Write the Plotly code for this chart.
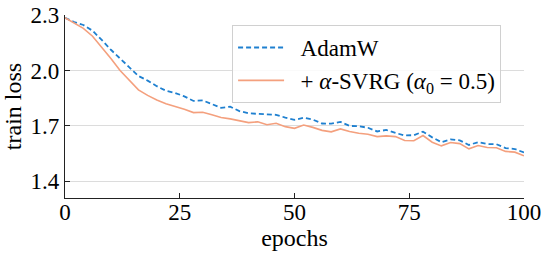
import plotly.graph_objects as go

epochs = list(range(0, 101, 2))

adamw = [2.285, 2.262, 2.246, 2.215, 2.165, 2.112, 2.065, 2.015, 1.970, 1.945,
         1.915, 1.890, 1.878, 1.860, 1.835, 1.838, 1.820, 1.798, 1.804, 1.780,
         1.768, 1.766, 1.762, 1.760, 1.745, 1.733, 1.744, 1.734, 1.713, 1.712,
         1.722, 1.700, 1.698, 1.690, 1.670, 1.678, 1.662, 1.648, 1.650, 1.669,
         1.638, 1.612, 1.627, 1.622, 1.597, 1.612, 1.602, 1.601, 1.580, 1.575,
         1.556]

svrg = [2.285, 2.255, 2.228, 2.185, 2.128, 2.065, 2.000, 1.945, 1.895, 1.865,
        1.840, 1.820, 1.806, 1.790, 1.772, 1.774, 1.760, 1.745, 1.738, 1.728,
        1.718, 1.722, 1.706, 1.714, 1.696, 1.687, 1.705, 1.692, 1.676, 1.668,
        1.684, 1.670, 1.660, 1.655, 1.642, 1.646, 1.642, 1.621, 1.620, 1.648,
        1.612, 1.592, 1.610, 1.604, 1.576, 1.594, 1.583, 1.582, 1.562, 1.558,
        1.538]

x_ticks = [0, 25, 50, 75, 100]
y_ticks = [1.4, 1.7, 2.0, 2.3]

FONT = "Liberation Serif"
PAD = "\u00a0\u00a0"

fig = go.Figure()
fig.add_trace(go.Scatter(x=epochs, y=adamw, mode="lines", name=PAD + "AdamW",
                         legendgroup="a",
                         line=dict(color="#1f80d0", width=1.8, dash="5px,3px")))
fig.add_trace(go.Scatter(x=epochs, y=svrg, mode="lines",
                         name=PAD + "+ <i>α</i>-SVRG (<i>α</i><sub>0</sub> = 0.5)",
                         legendgroup="b",
                         line=dict(color="#f4a07e", width=1.6)))

fig.update_layout(
    width=548, height=256,
    margin=dict(l=65, r=24, t=15, b=58),
    paper_bgcolor="white", plot_bgcolor="white",
    font=dict(family=FONT, size=23, color="black"),
    showlegend=True,
    legend=dict(x=0.364, y=0.945, xanchor="left", yanchor="top",
                bgcolor="rgba(255,255,255,0.85)", bordercolor="#d0d0d0",
                borderwidth=1, font=dict(family=FONT, size=23),
                traceorder="grouped", tracegroupgap=0, itemwidth=46),
    xaxis=dict(range=[0, 100], tickvals=x_ticks, ticks="inside", ticklen=5,
               tickcolor="#222", showline=True, linecolor="#222", linewidth=1.3,
               showgrid=False, zeroline=False, automargin=False,
               ticklabelstandoff=-7,
               title=dict(text="epochs", font=dict(size=24), standoff=0),
               tickfont=dict(size=23)),
    yaxis=dict(range=[1.31, 2.3], tickvals=y_ticks, tickformat=".1f",
               ticks="inside", ticklen=5, tickcolor="#222",
               showline=True, linecolor="#222", linewidth=1.3, automargin=False,
               showgrid=True, gridcolor="#dcdcdc", gridwidth=1, zeroline=False,
               title=dict(text="train loss", font=dict(size=24), standoff=4),
               tickfont=dict(size=23)),
)

fig.write_html("out.html",
               config={"displayModeBar": False},
               post_script="document.body.style.margin='0';"
                           "document.body.style.padding='0';")
